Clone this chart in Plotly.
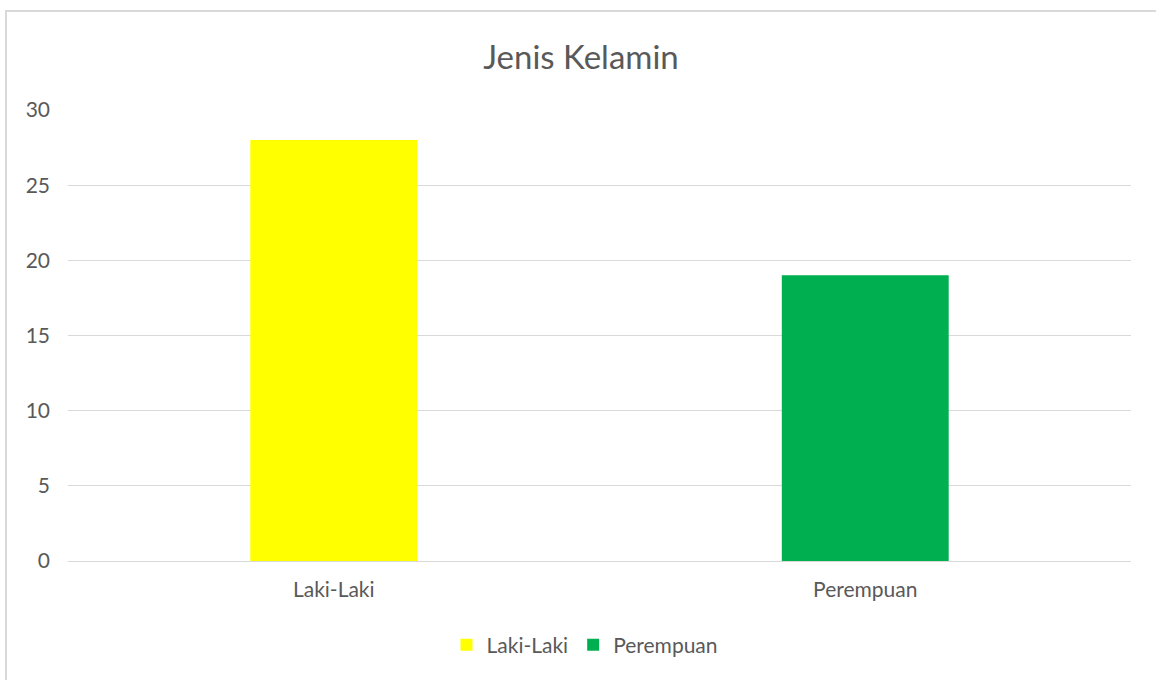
import plotly.graph_objects as go

categories = ["Laki-Laki", "Perempuan"]
values = [28, 19]
colors = ["#FFFF00", "#00B050"]
y_ticks = [0, 5, 10, 15, 20, 25, 30]

FONT = "Lato"
GRAY = "#595959"

fig = go.Figure()
for cat, val, col in zip(categories, values, colors):
    fig.add_trace(go.Bar(x=[cat], y=[val], name=cat, marker=dict(color=col, line=dict(width=0)),
                         width=0.314))

W, H = 1156, 680
L, T = 68, 110
R = W - 1131
B = H - 561
pw = W - L - R
ph = H - T - B

fig.update_layout(
    width=W, height=H,
    margin=dict(l=L, r=R, t=T, b=B),
    paper_bgcolor="white", plot_bgcolor="white",
    barmode="overlay",
    title=dict(text="Jenis Kelamin", x=581 / W, xref="container", xanchor="center",
               y=1 - 57 / H, yref="container", yanchor="middle",
               font=dict(family=FONT, size=33, color=GRAY)),
    font=dict(family=FONT, color=GRAY),
    showlegend=True,
    legend=dict(orientation="h", x=(585 - L) / pw, xanchor="center",
                y=(561 - 645) / ph, yanchor="middle",
                font=dict(family=FONT, size=21, color=GRAY), itemwidth=30,
                traceorder="normal"),
    xaxis=dict(showgrid=False, showline=False, ticks="", tickfont=dict(size=21, color=GRAY),
               ticklabelstandoff=14, fixedrange=True),
    yaxis=dict(range=[0, 30], tickvals=y_ticks, showgrid=True, gridcolor="#D9D9D9", gridwidth=1,
               zeroline=True, zerolinecolor="#D9D9D9", zerolinewidth=1, showline=False, ticks="",
               tickfont=dict(size=21, color=GRAY), ticklabelstandoff=17),
    shapes=[dict(type="rect", xref="paper", yref="paper",
                 x0=(6 - L) / pw, x1=1.1, y0=-0.5, y1=(561 - 11) / ph,
                 line=dict(color="#D9D9D9", width=2), fillcolor="rgba(0,0,0,0)", layer="below")],
)

fig.write_html("out.html", config={"displayModeBar": False},
               post_script="document.body.style.margin='0';")
